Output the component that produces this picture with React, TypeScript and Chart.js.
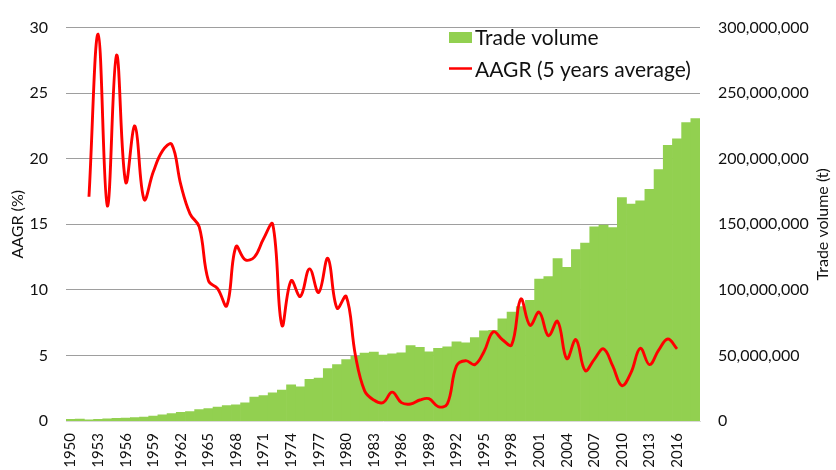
import { useEffect, useRef } from 'react';
import { Chart, registerables } from 'chart.js';

Chart.register(...registerables);

const years: string[] = [
  '1950','1951','1952','1953','1954','1955','1956','1957','1958','1959',
  '1960','1961','1962','1963','1964','1965','1966','1967','1968','1969',
  '1970','1971','1972','1973','1974','1975','1976','1977','1978','1979',
  '1980','1981','1982','1983','1984','1985','1986','1987','1988','1989',
  '1990','1991','1992','1993','1994','1995','1996','1997','1998','1999',
  '2000','2001','2002','2003','2004','2005','2006','2007','2008','2009',
  '2010','2011','2012','2013','2014','2015','2016','2017','2018',
];

// Trade volume in millions of tonnes (1950-2018)
const tradeVolumeMt: number[] = [
  1.2, 1.5, 0.8, 1.2, 1.6, 2.0, 2.3, 2.6, 3.0, 3.7,
  4.7, 5.6, 6.7, 7.2, 8.7, 9.5, 10.7, 11.7, 12.4, 13.8,
  18.2, 19.4, 21.4, 23.6, 27.6, 26.1, 31.8, 32.8, 40.0, 43.0,
  46.8, 49.3, 51.7, 52.5, 50.2, 51.2, 52.0, 57.5, 56.2, 52.7,
  55.5, 56.6, 60.4, 59.7, 63.7, 68.7, 69.2, 77.9, 83.0, 87.3,
  92.0, 108.2, 110.2, 123.9, 117.2, 130.8, 135.6, 148.0, 149.5, 147.5,
  170.4, 165.4, 167.9, 176.6, 191.8, 210.2, 215.2, 227.6, 230.6,
];

// AAGR (5 years average), %, 1950-2018 (null where not available)
const aagr: (number | null)[] = [
  null, null, 17.1, 29.5, 16.4, 27.9, 18.2, 22.5, 16.9, 19.0,
  20.6, 21.1, 18.0, 15.8, 14.8, 10.7, 10.1, 8.8, 13.3, 12.3,
  12.5, 13.9, 15.0, 7.3, 10.7, 9.5, 11.6, 9.8, 12.4, 8.6,
  9.5, 5.0, 2.3, 1.6, 1.4, 2.2, 1.4, 1.3, 1.6, 1.7,
  1.1, 1.3, 4.2, 4.6, 4.3, 5.3, 6.8, 6.2, 5.8, 9.3,
  7.3, 8.3, 6.5, 7.6, 4.75, 6.2, 3.85, 4.7, 5.5, 4.2,
  2.7, 3.7, 5.55, 4.3, 5.4, 6.25, 5.5, null, null,
];

const leftTicks = { min: 0, max: 30, step: 5 };
const rightTicks = { min: 0, max: 300000000, step: 50000000 };

const barLabel = 'Trade volume';
const lineLabel = 'AAGR (5 years average)';
const leftTitle = 'AAGR (%)';
const rightTitle = 'Trade volume (t)';

const GREEN = '#92D050';
const RED = '#FF0000';
const FONT = 'Lato, "Noto Sans", sans-serif';
const TEXT = '#111111';

const overlayPlugin = {
  id: 'overlay',
  afterDraw(chart: any) {
    const ctx = chart.ctx as CanvasRenderingContext2D;
    ctx.save();
    // right axis title (reads bottom-to-top)
    ctx.fillStyle = TEXT;
    ctx.font = `16px ${FONT}`;
    ctx.textAlign = 'center';
    ctx.textBaseline = 'middle';
    const ca = chart.chartArea;
    ctx.translate(823, (ca.top + ca.bottom) / 2);
    ctx.rotate(-Math.PI / 2);
    ctx.fillText(rightTitle, 0, 0);
    ctx.restore();

    // legend inside plot area
    ctx.save();
    ctx.font = `21px ${FONT}`;
    ctx.textBaseline = 'middle';
    ctx.textAlign = 'left';
    ctx.fillStyle = GREEN;
    ctx.fillRect(449, 32, 23, 11);
    ctx.fillStyle = TEXT;
    ctx.fillText(barLabel, 475, 38);
    ctx.strokeStyle = RED;
    ctx.lineWidth = 2.5;
    ctx.beginPath();
    ctx.moveTo(449, 68.5);
    ctx.lineTo(472, 68.5);
    ctx.stroke();
    ctx.fillText(lineLabel, 475, 70);
    ctx.restore();
  },
};

export default function App() {
  const ref = useRef<HTMLCanvasElement | null>(null);

  useEffect(() => {
    if (!ref.current) return;
    document.body.style.margin = '0';
    Chart.defaults.font.family = FONT;
    Chart.defaults.color = TEXT;

    const chart = new Chart(ref.current, {
      type: 'bar',
      data: {
        labels: years,
        datasets: [
          {
            type: 'line',
            label: lineLabel,
            data: aagr,
            yAxisID: 'y',
            borderColor: RED,
            backgroundColor: RED,
            borderWidth: 2.9,
            pointRadius: 0,
            tension: 0.4,
            fill: false,
            order: 0,
          } as any,
          {
            type: 'bar',
            label: barLabel,
            data: tradeVolumeMt.map((v) => v * 1000000),
            yAxisID: 'y1',
            backgroundColor: GREEN,
            borderWidth: 0,
            categoryPercentage: 1,
            barPercentage: 1,
            order: 1,
          } as any,
        ],
      },
      options: {
        animation: false,
        responsive: true,
        maintainAspectRatio: false,
        layout: { padding: { top: 19, left: 0, right: 0, bottom: 0 } },
        plugins: {
          legend: { display: false },
          tooltip: { enabled: false },
        },
        scales: {
          x: {
            grid: { display: false, drawTicks: false },
            border: { display: true, color: '#D9D9D9', width: 1 },
            ticks: {
              autoSkip: false,
              minRotation: 90,
              maxRotation: 90,
              padding: 12,
              font: { size: 15 },
              color: TEXT,
              callback: (_v: any, i: number) => (i % 3 === 0 ? years[i] : ''),
            },
            afterFit: (s: any) => { s.height = 49; },
          },
          y: {
            position: 'left',
            min: leftTicks.min,
            max: leftTicks.max,
            ticks: { stepSize: leftTicks.step, padding: 18, font: { size: 16 }, color: TEXT },
            grid: {
              drawTicks: false,
              color: (c: any) => (c.index === 0 ? 'rgba(0,0,0,0)' : '#9E9E9E'),
              lineWidth: 1,
            },
            border: { display: false },
            title: {
              display: true,
              text: leftTitle,
              font: { size: 16, lineHeight: 2.25 },
              color: TEXT,
              padding: 0,
            },
            afterFit: (s: any) => { s.width = 66; },
          },
          y1: {
            position: 'right',
            min: rightTicks.min,
            max: rightTicks.max,
            ticks: {
              stepSize: rightTicks.step,
              padding: 18,
              font: { size: 16 },
              color: TEXT,
              callback: (v: any) => Number(v).toLocaleString('en-US'),
            },
            grid: { display: false, drawTicks: false },
            border: { display: false },
            afterFit: (s: any) => { s.width = 136; },
          },
        },
      },
      plugins: [overlayPlugin],
    });
    return () => chart.destroy();
  }, []);

  return (
    <div style={{ position: 'fixed', left: 0, top: 0, width: '836px', height: '470px' }}>
      <canvas ref={ref} />
    </div>
  );
}
